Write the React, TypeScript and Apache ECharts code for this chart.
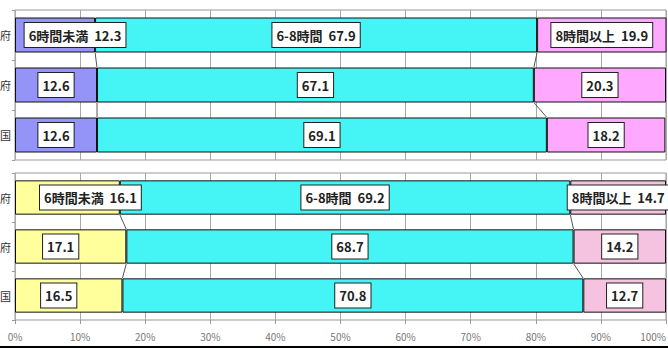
import React, { useEffect, useRef } from "react";
import * as echarts from "echarts";

const rowLabels = ["府", "府", "国"];
const seriesNames = ["6時間未満", "6-8時間", "8時間以上"];
const xTicks = [0, 10, 20, 30, 40, 50, 60, 70, 80, 90, 100];

// group 1 (top)
const g1Under6 = [12.3, 12.6, 12.6];
const g1Mid = [67.9, 67.1, 69.1];
const g1Over8 = [19.9, 20.3, 18.2];
// group 2 (bottom)
const g2Under6 = [16.1, 17.1, 16.5];
const g2Mid = [69.2, 68.7, 70.8];
const g2Over8 = [14.7, 14.2, 12.7];

const g1Colors = ["#9393F8", "#45F4F4", "#FFA8FF"];
const g2Colors = ["#FFFF9C", "#45F4F4", "#F5C2E0"];

const FONT = "'Noto Sans CJK JP', 'Noto Sans', sans-serif";

function labelOffsets(group: number, s: number): Record<number, number[]> {
  if (s !== 0) return {};
  if (group === 0) return { 0: [20, 0] };
  return { 0: [23, 0], 1: [-10, 0], 2: [-10, 0] };
}

export default function App() {
  const ref = useRef<HTMLDivElement>(null);
  useEffect(() => {
    if (!ref.current) return;
    const chart = echarts.init(ref.current, undefined, { renderer: "svg" });
    const groups = [
      [g1Under6, g1Mid, g1Over8],
      [g2Under6, g2Mid, g2Over8],
    ];
    const colorSets = [g1Colors, g2Colors];
    const series: any[] = [];
    groups.forEach((arrs, gi) => {
      arrs.forEach((vals, si) => {
        const offs = labelOffsets(gi, si);
        series.push({
          type: "bar",
          name: seriesNames[si] + (gi === 1 ? " " : ""),
          xAxisIndex: gi,
          yAxisIndex: gi,
          stack: "g" + gi,
          barCategoryGap: "30%",
          itemStyle: { color: colorSets[gi][si], borderColor: "#111", borderWidth: 1 },
          data: vals.map((v, i) => ({
            value: v,
            label: offs[i] ? { offset: offs[i] } : undefined,
          })),
          label: {
            show: true,
            position: "inside",
            formatter: (p: any) =>
              p.dataIndex === 0
                ? `${seriesNames[si]}  ${Number(p.value).toFixed(1)}`
                : Number(p.value).toFixed(1),
            backgroundColor: "#fff",
            borderColor: "#222",
            borderWidth: 1,
            padding: [4, 4, 3, 4],
            color: "#222",
            fontSize: 13,
            fontWeight: "bold",
            fontFamily: FONT,
            lineHeight: 17,
          },
        });
      });
      // series lines connecting segment boundaries
      const a = arrs[0];
      const b = arrs[1];
      const lineData: number[][] = [];
      for (let i = 0; i < a.length - 1; i++) {
        lineData.push([a[i], i, a[i + 1]]);
        lineData.push([a[i] + b[i], i, a[i + 1] + b[i + 1]]);
      }
      series.push({
        type: "custom",
        xAxisIndex: gi,
        yAxisIndex: gi,
        silent: true,
        z: 1,
        data: lineData,
        renderItem: (params: any, api: any) => {
          const x1 = api.value(0);
          const idx = api.value(1);
          const x2 = api.value(2);
          const p1 = api.coord([x1, idx]);
          const p2 = api.coord([x2, idx + 1]);
          const half = api.size([0, 1])[1] * 0.35;
          return {
            type: "line",
            shape: { x1: p1[0], y1: p1[1] + half, x2: p2[0], y2: p2[1] - half },
            style: { stroke: "#555", lineWidth: 1 },
          };
        },
      });
    });

    const xAxisBase = (showLabels: boolean) => ({
      type: "value",
      min: 0,
      max: 100,
      interval: 10,
      axisLine: { show: false },
      axisTick: { show: showLabels, length: 4, lineStyle: { color: "#999" } },
      splitLine: { show: true, lineStyle: { color: "#aaa", width: 1 } },
      axisLabel: {
        show: showLabels,
        formatter: (v: number) => (xTicks.includes(v) ? v + "%" : ""),
        color: "#777",
        fontSize: 10,
        fontFamily: FONT,
        margin: 11,
        alignMaxLabel: "right",
      },
    });
    const yAxisBase = (gi: number) => ({
      type: "category",
      gridIndex: gi,
      inverse: true,
      data: rowLabels,
      axisLine: { show: false },
      axisTick: { show: true, length: 3, lineStyle: { color: "#999" } },
      axisLabel: { color: "#333", fontSize: 11, fontFamily: FONT, margin: 4 },
    });

    chart.setOption({
      animation: false,
      backgroundColor: "#fff",
      grid: [
        { left: 15, right: 2, top: 10, height: 150, show: true, borderColor: "#999", borderWidth: 1, containLabel: false, outerBoundsMode: "none" },
        { left: 15, right: 2, top: 173, height: 147, show: true, borderColor: "#999", borderWidth: 1, containLabel: false, outerBoundsMode: "none" },
      ],
      xAxis: [
        { ...xAxisBase(false), gridIndex: 0 },
        { ...xAxisBase(true), gridIndex: 1 },
      ],
      yAxis: [yAxisBase(0), yAxisBase(1)],
      series,
      graphic: [
        {
          type: "line",
          shape: { x1: 0, y1: 347, x2: 668, y2: 347 },
          style: { stroke: "#000", lineWidth: 2 },
        },
      ],
    });
    return () => chart.dispose();
  }, []);
  return (
    <div
      ref={ref}
      style={{ position: "absolute", left: 0, top: 0, width: 668, height: 349 }}
    />
  );
}
